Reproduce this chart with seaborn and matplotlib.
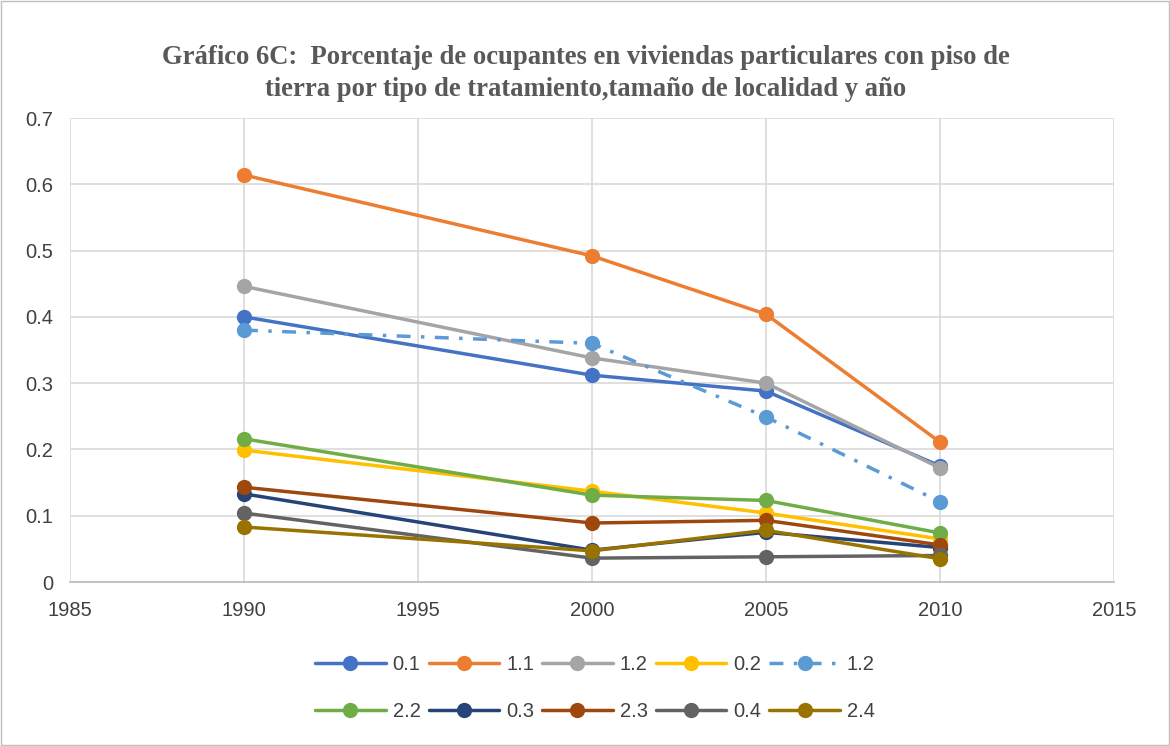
import matplotlib
matplotlib.use("Agg")
import matplotlib.pyplot as plt
import seaborn as sns

years = [1990, 2000, 2005, 2010]
labels = ["0.1", "1.1", "1.2", "0.2", "1.2", "2.2", "0.3", "2.3", "0.4", "2.4"]
s01 = [0.400, 0.312, 0.288, 0.175]
s11 = [0.614, 0.492, 0.404, 0.211]
s12 = [0.446, 0.338, 0.300, 0.172]
s02 = [0.199, 0.137, 0.104, 0.065]
s12b = [0.380, 0.360, 0.249, 0.121]
s22 = [0.216, 0.131, 0.123, 0.074]
s03 = [0.133, 0.048, 0.075, 0.052]
s23 = [0.143, 0.089, 0.093, 0.056]
s04 = [0.104, 0.036, 0.038, 0.040]
s24 = [0.083, 0.047, 0.078, 0.035]
series = [s01, s11, s12, s02, s12b, s22, s03, s23, s04, s24]
colors = ["#4472C4", "#ED7D31", "#A5A5A5", "#FFC000", "#5B9BD5",
          "#70AD47", "#264478", "#9E480E", "#636363", "#997300"]

sns.set_theme(style="white")
plt.rcParams['font.family'] = ['Liberation Sans', 'DejaVu Sans']

fig = plt.figure(figsize=(11.7, 7.46), dpi=100)
ax = fig.add_axes([70/1170, 1-582/746, (1114-70)/1170, (582-118)/746])

for i, (lab, vals, col) in enumerate(zip(labels, series, colors)):
    dashed = (i == 4)
    sns.lineplot(x=years, y=vals, ax=ax, color=col, label=lab,
                 linewidth=2.5, marker="o", markersize=11,
                 markeredgewidth=0, markeredgecolor=col,
                 linestyle=(0, (4, 3, 1, 3)) if dashed else "-")

ax.set_xlim(1985, 2015)
ax.set_ylim(0, 0.7)
ax.set_xticks([1985, 1990, 1995, 2000, 2005, 2010, 2015])
ax.set_yticks([0, 0.1, 0.2, 0.3, 0.4, 0.5, 0.6, 0.7])
ax.set_yticklabels(["0", "0.1", "0.2", "0.3", "0.4", "0.5", "0.6", "0.7"])
ax.grid(True, color="#D9D9D9", linewidth=1.2)
ax.set_axisbelow(True)
for sp in ["left", "right", "top"]:
    ax.spines[sp].set_visible(False)
ax.spines["bottom"].set_color("#BFBFBF")
ax.spines["bottom"].set_linewidth(1.3)
ax.tick_params(axis="both", labelsize=14.5, colors="#404040", length=0)
ax.tick_params(axis="x", pad=14)
ax.tick_params(axis="y", pad=12)
ax.set_xlabel("")
ax.set_ylabel("")

title1 = "Gráfico 6C:  Porcentaje de ocupantes en viviendas particulares con piso de"
title2 = "tierra por tipo de tratamiento,tamaño de localidad y año"
for txt, ypix in [(title1, 58), (title2, 90)]:
    fig.text(586/1170, 1-ypix/746, txt, ha="center", va="center", fontsize=19.2,
             fontweight="bold", color="#595959", family=["Liberation Serif", "DejaVu Serif"])

handles, labs = ax.get_legend_handles_labels()
order = [0, 5, 1, 6, 2, 7, 3, 8, 4, 9]
leg = ax.legend([handles[k] for k in order], [labs[k] for k in order],
                loc="center", bbox_to_anchor=(595/1170, 1-688/746), bbox_transform=fig.transFigure,
                ncol=5, frameon=False, fontsize=14.5, handlelength=3.5,
                columnspacing=0.4, handletextpad=0.35, labelspacing=1.4)
for t in leg.get_texts():
    t.set_color("#404040")

fig.patches.append(plt.Rectangle((1/1170, 1/746), 1-2/1170, 1-2/746, transform=fig.transFigure,
                                 fill=False, edgecolor="#BFBFBF", linewidth=1))
fig.savefig("out.png", dpi=100)
